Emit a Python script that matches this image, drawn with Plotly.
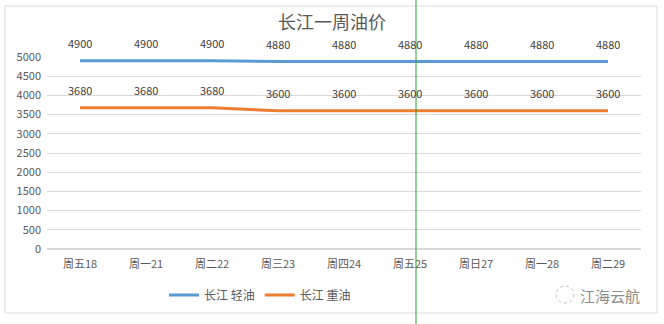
import plotly.graph_objects as go

categories = ["周五18", "周一21", "周二22", "周三23", "周四24", "周五25", "周日27", "周一28", "周二29"]
light_oil = [4900, 4900, 4900, 4880, 4880, 4880, 4880, 4880, 4880]
heavy_oil = [3680, 3680, 3680, 3600, 3600, 3600, 3600, 3600, 3600]
series_names = ["长江 轻油", "长江 重油"]
title_text = "长江一周油价"
watermark = "江海云航"

W, H = 664, 324
L, R, T, B = 47, 641, 57, 249
pw, ph = R - L, B - T

def px(x):
    return (x - L) / pw

def py(y):
    return (B - y) / ph

fig = go.Figure()
font_fam = "Microsoft YaHei, Noto Sans CJK SC, sans-serif"
for name, vals, col in [(series_names[0], light_oil, "#5B9BD5"), (series_names[1], heavy_oil, "#ED7D31")]:
    fig.add_trace(go.Scatter(
        x=categories, y=vals, name=name, mode="lines",
        line=dict(color=col, width=3),
        cliponaxis=False,
    ))
    for c, v in zip(categories, vals):
        fig.add_annotation(x=c, y=v, xref="x", yref="y", text=str(v), showarrow=False,
                           yshift=18, xanchor="center", yanchor="middle",
                           font=dict(size=11, color="#404040", family=font_fam))

fig.update_layout(
    width=W, height=H,
    margin=dict(l=L, r=W - R, t=T, b=H - B),
    paper_bgcolor="white", plot_bgcolor="white",
    title=dict(text=title_text, x=0.5, xanchor="center", y=1 - 23 / H, yanchor="middle",
               font=dict(size=18, color="#595959", family=font_fam)),
    font=dict(family=font_fam, color="#595959", size=11),
    xaxis=dict(showgrid=False, showline=False, ticks="", tickfont=dict(size=11, color="#595959"),
               range=[-0.5, len(categories) - 0.5], ticklabelstandoff=7),
    yaxis=dict(range=[0, 5000], dtick=500, showgrid=True, gridcolor="#D9D9D9", gridwidth=1,
               zeroline=True, zerolinecolor="#D9D9D9", showline=False, ticks="",
               tickfont=dict(size=11, color="#595959"), ticklabelstandoff=5),
    legend=dict(orientation="h", x=px(260), xanchor="center", y=py(295), yanchor="middle",
                font=dict(size=12, color="#595959"), itemwidth=30, tracegroupgap=0),
    showlegend=True,
)

# outer chart border
fig.add_shape(type="rect", xref="paper", yref="paper",
              x0=px(5), x1=px(657), y0=py(313), y1=py(6),
              line=dict(color="#D9D9D9", width=1), fillcolor="rgba(0,0,0,0)", layer="below")
# green vertical marker line
fig.add_shape(type="line", xref="paper", yref="paper",
              x0=px(416), x1=px(416), y0=py(324), y1=py(0),
              line=dict(color="#2CA02C", width=1))
# watermark icon
fig.add_shape(type="circle", xref="paper", yref="paper",
              x0=px(556), x1=px(574), y0=py(303), y1=py(286),
              line=dict(color="#BBBBBB", width=1, dash="dot"))
fig.add_annotation(text=watermark, xref="paper", yref="paper", x=px(610), y=py(295),
                   showarrow=False, font=dict(size=15, color="#8C8C8C", family=font_fam),
                   xanchor="center", yanchor="middle")

fig.write_html("out.html")
